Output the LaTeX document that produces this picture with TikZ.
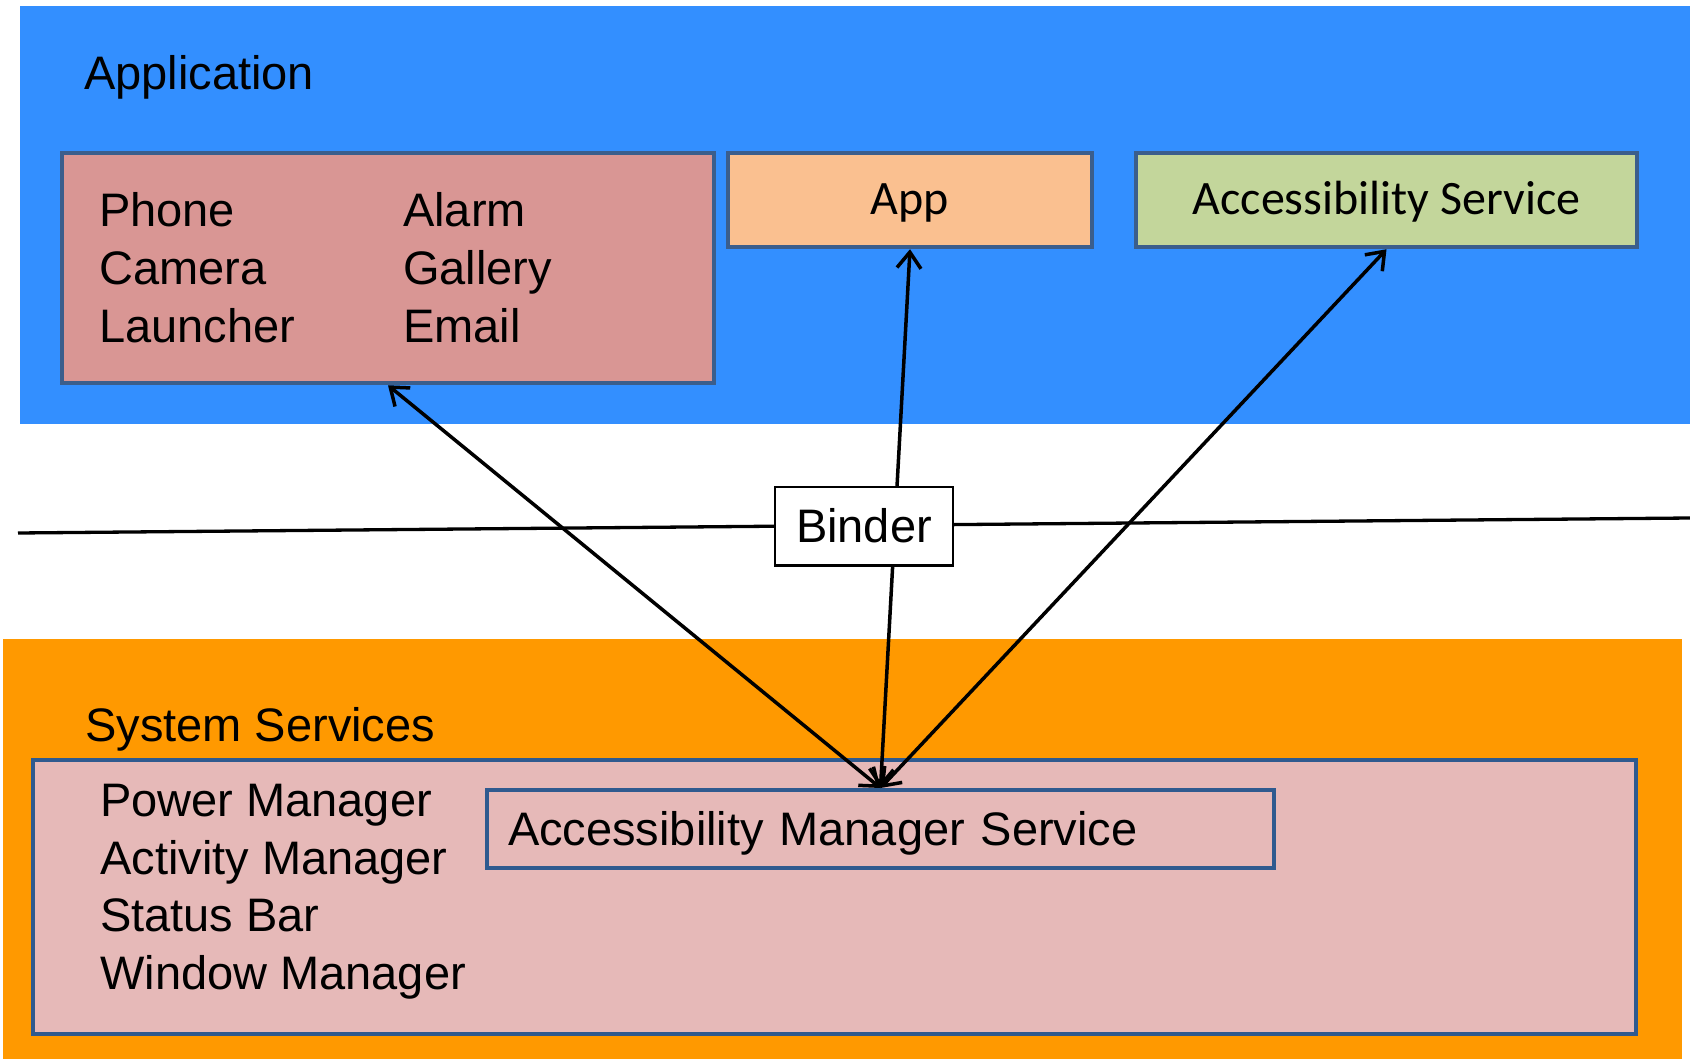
\documentclass[tikz,border=0pt]{standalone}
\usepackage{fontspec}
\setmainfont{Liberation Sans}
\newfontfamily\calibrifont{Carlito}
\usetikzlibrary{arrows.meta}
\definecolor{appblue}{HTML}{338FFF}
\definecolor{sysorange}{HTML}{FF9900}
\definecolor{toppink}{HTML}{D99694}
\definecolor{appfill}{HTML}{FAC090}
\definecolor{accfill}{HTML}{C3D69B}
\definecolor{lowpink}{HTML}{E6B9B8}
\definecolor{boxedge}{HTML}{3B5E8C}
\definecolor{boxedgetwo}{HTML}{2F5A8F}
\begin{document}
\begin{tikzpicture}[x=1pt,y=-1pt,
  lbl/.style={inner sep=0pt, anchor=base west, font=\fontsize{47}{56}\selectfont},
  box/.style={draw=boxedge, line width=4.5pt, inner sep=0pt},
  boxtwo/.style={draw=boxedgetwo, line width=4pt, inner sep=0pt},
  calfont/.style={font=\calibrifont\fontsize{48}{56}\selectfont},
  conn/.style={line width=3.5pt, {Straight Barb[length=16pt,width=24pt]}-{Straight Barb[length=16pt,width=24pt]}},
]
\useasboundingbox (0,0) rectangle (1690,1059);
% layer backgrounds
\fill[appblue] (20,6) rectangle (1690,424);
\fill[sysorange] (3,639) rectangle (1682,1059);

% application layer
\node[lbl] (application) at (84,90) {Application};
\node[box, fill=toppink, minimum width=652pt, minimum height=230pt] (apps) at (388,268) {};
\node[lbl] (phone) at (99,227) {Phone};
\node[lbl] (camera) at (99,285) {Camera};
\node[lbl] (launcher) at (99,343) {Launcher};
\node[lbl] (alarm) at (403,227) {Alarm};
\node[lbl] (gallery) at (403,285) {Gallery};
\node[lbl] (email) at (403,343) {Email};
\node[box, calfont, fill=appfill, minimum width=364pt, text height=62pt, text depth=32pt] (app) at (910,200) {App};
\node[box, calfont, fill=accfill, minimum width=501pt, text height=62pt, text depth=32pt] (accsvc) at (1386.5,200) {Accessibility Service};

% system services layer
\node[lbl] (syssvc) at (85,741) {System Services};
\node[boxtwo, fill=lowpink, minimum width=1603pt, minimum height=274pt] (sys) at (834.5,896.5) {};
\node[lbl] (power) at (100,816) {Power Manager};
\node[lbl] (activity) at (100,874) {Activity Manager};
\node[lbl] (status) at (100,931) {Status Bar};
\node[lbl] (window) at (100,989) {Window Manager};
\node[boxtwo, fill=lowpink, font=\fontsize{47}{56}\selectfont, align=left, text width=745pt, inner xsep=21pt, inner ysep=0pt, text height=55pt, text depth=23pt] (ams) at (880.5,829) {Accessibility Manager Service};

% boundary line
\coordinate (hl) at (18,533);
\coordinate (hr) at (1690,518);
\draw[line width=3.3pt] (hl) -- (hr);

% connectors
\draw[conn] (apps.south) -- (ams.north);
\draw[conn] (app.south) -- (ams.north);
\draw[conn] (accsvc.south) -- (ams.north);

% binder
\node[draw=black, line width=2.5pt, fill=white, inner sep=0pt, minimum width=178pt, text height=56pt, text depth=22.5pt, font=\fontsize{47}{56}\selectfont] (binder) at (864,526) {Binder};
\end{tikzpicture}
\end{document}
